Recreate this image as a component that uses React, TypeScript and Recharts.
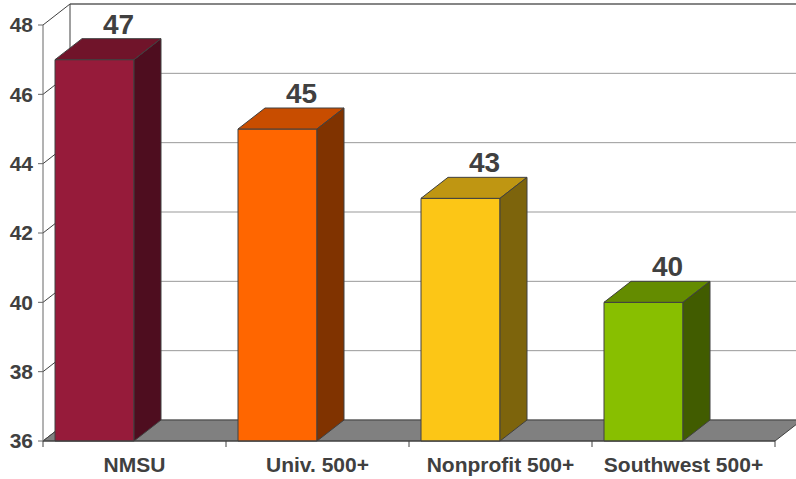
import React from "react";
import {
  BarChart,
  Bar,
  XAxis,
  YAxis,
  CartesianGrid,
  ReferenceArea
} from "recharts";

const categories = ["NMSU", "Univ. 500+", "Nonprofit 500+", "Southwest 500+"];
const scores = [47, 45, 43, 40];
const yTicks = [36, 38, 40, 42, 44, 46, 48];

// front / top / side shades of each bar
const frontColors = ["#961B3A", "#FF6600", "#FCC616", "#88BF00"];
const topColors = ["#70142A", "#C84D00", "#BF9612", "#648C00"];
const sideColors = ["#4E0D1F", "#803300", "#7D640C", "#415C00"];

const data = categories.map((name, i) => ({ name, score: scores[i] }));

const DX = 27; // depth offset
const DY = -21;
const SHIFT = -40; // bars sit at the front-left of their slot
const HALF_BAND = 91.5;
const TEXT = "#404040";
const FONT = "'Liberation Sans', Arial, sans-serif";

function Bar3D(props: any) {
  const { x, y, width, height, index, payload } = props;
  const x0 = x + SHIFT;
  const x1 = x0 + width;
  const yb = y + height;
  return (
    <g>
      <g stroke={TEXT} strokeWidth={1} strokeLinejoin="round">
        <rect x={x0} y={y} width={width} height={height} fill={frontColors[index]} />
        <polygon
          points={`${x0},${y} ${x0 + DX},${y + DY} ${x1 + DX},${y + DY} ${x1},${y}`}
          fill={topColors[index]}
        />
        <polygon
          points={`${x1},${y} ${x1 + DX},${y + DY} ${x1 + DX},${yb + DY} ${x1},${yb}`}
          fill={sideColors[index]}
        />
      </g>
      <text
        x={x0 + width / 2 + 24}
        y={y + DY - 5}
        textAnchor="middle"
        fontFamily={FONT}
        fontWeight="bold"
        fontSize={28}
        fill={TEXT}
      >
        {payload.score}
      </text>
    </g>
  );
}

function GridLine(p: any) {
  const { x1, y1, x2 } = p;
  return (
    <g>
      <line x1={x1 + DX} y1={y1 + DY} x2={x2 + DX} y2={y1 + DY} stroke="#999999" />
      <line x1={x1} y1={y1} x2={x1 + DX} y2={y1 + DY} stroke={TEXT} />
    </g>
  );
}

function Walls(p: any) {
  const { x, y, width, height } = p;
  const yb = y + height;
  return (
    <g>
      <line x1={x + DX} y1={y + DY} x2={x + width + DX} y2={y + DY} stroke={TEXT} />
      <line x1={x + DX} y1={y + DY} x2={x + DX} y2={yb + DY} stroke={TEXT} />
      <polygon
        points={`${x},${yb} ${x + width},${yb} ${x + width + DX},${yb + DY} ${x + DX},${yb + DY}`}
        fill="#808080"
        stroke={TEXT}
      />
    </g>
  );
}

function XTick(p: any) {
  const { x, y, payload, index } = p;
  const axisY = y - 8;
  return (
    <g>
      <line x1={x - HALF_BAND} y1={axisY} x2={x - HALF_BAND} y2={axisY + 6} stroke={TEXT} />
      {index === categories.length - 1 && (
        <line x1={x + HALF_BAND} y1={axisY} x2={x + HALF_BAND} y2={axisY + 6} stroke={TEXT} />
      )}
      <text
        x={x}
        y={axisY + 31}
        textAnchor="middle"
        fontFamily={FONT}
        fontWeight="bold"
        fontSize={21}
        fill={TEXT}
      >
        {payload.value}
      </text>
    </g>
  );
}

export default function App() {
  return (
    <div style={{ position: "absolute", left: 0, top: 0 }}>
      <BarChart
        width={796}
        height={479}
        data={data}
        margin={{ top: 25, right: 21, left: 0, bottom: 0 }}
        barSize={79}
      >
        <CartesianGrid vertical={false} horizontal={GridLine} />
        <ReferenceArea y1={36} y2={48} shape={Walls} />
        <XAxis
          dataKey="name"
          height={38}
          tickLine={false}
          tickSize={6}
          tickMargin={2}
          axisLine={{ stroke: TEXT }}
          tick={XTick}
          interval={0}
        />
        <YAxis
          domain={[36, 48]}
          ticks={yTicks}
          width={43}
          tickSize={5}
          tickMargin={5}
          tickLine={{ stroke: "#666666" }}
          axisLine={{ stroke: "#666666" }}
          tick={{ fill: TEXT, fontSize: 21, fontWeight: "bold", fontFamily: FONT }}
        />
        <Bar dataKey="score" shape={Bar3D} isAnimationActive={false} />
      </BarChart>
    </div>
  );
}
